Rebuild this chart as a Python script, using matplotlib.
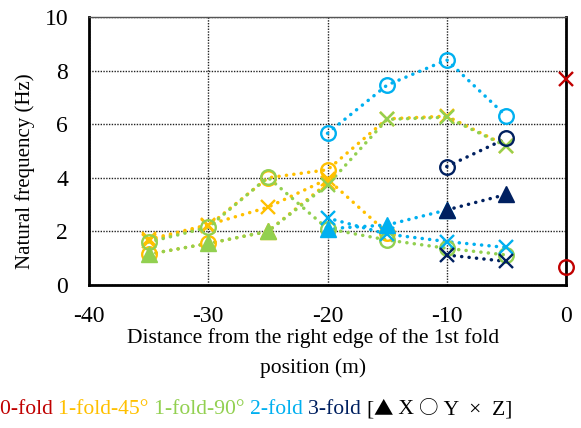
import numpy as np
import matplotlib
matplotlib.use("Agg")
from matplotlib import pyplot as plt

nan = np.nan

# fold positions (m, from right edge of 1st fold)
positions = [-35, -30, -25, -20, -15, -10, -5]

# 1-fold-45 deg
fold45_a = [1.15, 1.55, 2.0, 3.8, nan, nan, nan]
fold45_a_marks = "oo^x"
fold45_b = [1.65, 2.2, 4.0, 4.3, 6.2, 6.3, 5.2]
fold45_b_marks = "xxooxxx"
fold45_c = [1.7, 2.25, 2.9, 3.95, 1.95, nan, nan]
fold45_c_marks = "xxxxo"

# 1-fold-90 deg
fold90_a = [1.15, 1.55, 2.0, 3.73, 6.18, 6.26, 5.18]
fold90_a_marks = "^^^xxxx"
fold90_b = [1.6, 2.15, 4.02, 2.1, 1.68, 1.37, 1.12]
fold90_b_marks = "ooooooo"

# 2-fold
fold2_a = [nan, nan, nan, 2.1, 2.24, 2.8, nan]
fold2_a_marks = "^^^"
fold2_b = [nan, nan, nan, 5.66, 7.46, 8.4, 6.3]
fold2_b_marks = "oooo"
fold2_c = [nan, nan, nan, 2.5, 1.9, 1.62, 1.4]
fold2_c_marks = "xxxx"

# 3-fold
fold3_a = [nan, nan, nan, nan, nan, 2.8, 3.38]
fold3_b = [nan, nan, nan, nan, nan, 4.42, 5.47]
fold3_c = [nan, nan, nan, nan, nan, 1.12, 0.88]

# 0-fold (single position)
fold0_x = [0, 0]
fold0_y = [7.68, 0.68]
fold0_marks = "xo"

red = "#C00000"
yellow = "#FFC000"
green = "#92D050"
blue = "#00B0F0"
navy = "#002060"

series = [
    (positions, fold45_a, fold45_a_marks, yellow),
    (positions, fold45_b, fold45_b_marks, yellow),
    (positions, fold45_c, fold45_c_marks, yellow),
    (positions, fold90_a, fold90_a_marks, green),
    (positions, fold90_b, fold90_b_marks, green),
    (positions, fold2_a, fold2_a_marks, blue),
    (positions, fold2_b, fold2_b_marks, blue),
    (positions, fold2_c, fold2_c_marks, blue),
    (positions, fold3_a, "^^", navy),
    (positions, fold3_b, "oo", navy),
    (positions, fold3_c, "xx", navy),
    (fold0_x, fold0_y, fold0_marks, red),
]

serif = ["Liberation Serif", "DejaVu Sans"]
cjk = ["Noto Sans CJK JP", "DejaVu Sans"]

fig = plt.figure(figsize=(5.81, 4.28), dpi=100)
ax = fig.add_axes([89 / 581, 1 - 285 / 428, (566 - 89) / 581, (285 - 17) / 428])


def draw_series(xs, ys, marks, color, connect=True):
    pts = [(x, y) for x, y in zip(xs, ys) if not np.isnan(y)]
    px = [p[0] for p in pts]
    py = [p[1] for p in pts]
    if connect:
        ax.plot(px, py, color=color, lw=2.5, linestyle=(0, (0.05, 2.1)),
                dash_capstyle="round", zorder=2)
    for (x, y), m in zip(pts, marks):
        if m == "^":
            ax.plot(x, y, marker="^", ms=11.5, color=color, mec=color, zorder=3, clip_on=False)
        elif m == "o":
            ax.plot(x, y, marker="o", ms=10.5, mfc="none", mec=color, mew=1.7, zorder=3, clip_on=False)
        else:
            ax.plot(x, y, marker="x", ms=10.5, mec=color, mew=1.7, zorder=3, clip_on=False)


for xs, ys, marks, color in series:
    draw_series(xs, ys, marks, color, connect=(color != red))

ax.set_xlim(-40, 0)
ax.set_ylim(0, 10)
ax.set_xticks([-40, -30, -20, -10, 0])
ax.set_yticks([0, 2, 4, 6, 8, 10])
ax.set_xticklabels(["-40", "-30", "-20", "-10", "0"])
ax.grid(True, color="#222222", linestyle=(0, (1, 1)), lw=1)
ax.set_axisbelow(True)
ax.tick_params(length=0, labelsize=17, pad=15)
for lab in ax.get_xticklabels() + ax.get_yticklabels():
    lab.set_family(serif)

for side in ["left", "bottom", "right"]:
    ax.spines[side].set_linewidth(2)
    ax.spines[side].set_color("black")
ax.spines["top"].set_linewidth(1)
ax.spines["top"].set_color("#555555")

fig.text(313 / 581, 1 - 338 / 428, "Distance from the right edge of the 1st fold",
         ha="center", va="center", fontsize=15.5, family=serif)
fig.text(313 / 581, 1 - 368 / 428, "position (m)",
         ha="center", va="center", fontsize=15.5, family=serif)
fig.text(25 / 581, 1 - 171 / 428, "Natural frequency (Hz)", rotation=90,
         ha="center", va="center", fontsize=15, family=serif)

# coloured caption line under the chart
legend_parts = [
    ("0-fold ", red, serif, 15.6),
    ("1-fold-45° ", yellow, serif, 15.6),
    ("1-fold-90° ", green, serif, 15.6),
    ("2-fold ", blue, serif, 15.6),
    ("3-fold ", navy, serif, 15.6),
    ("[", "black", serif, 15.6),
    ("▲", "black", cjk, 14),
    (" X ", "black", serif, 15.6),
    ("○", "black", cjk, 14),
    (" Y  ×  Z]", "black", serif, 15.6),
]
renderer = fig.canvas.get_renderer()
x_px = 0
for txt, col, fam, size in legend_parts:
    t = fig.text(x_px / 581, 1 - 414 / 428, txt, ha="left", va="baseline",
                 fontsize=size, color=col, family=fam)
    bb = t.get_window_extent(renderer)
    x_px += bb.width

fig.savefig("out.png", dpi=100)
